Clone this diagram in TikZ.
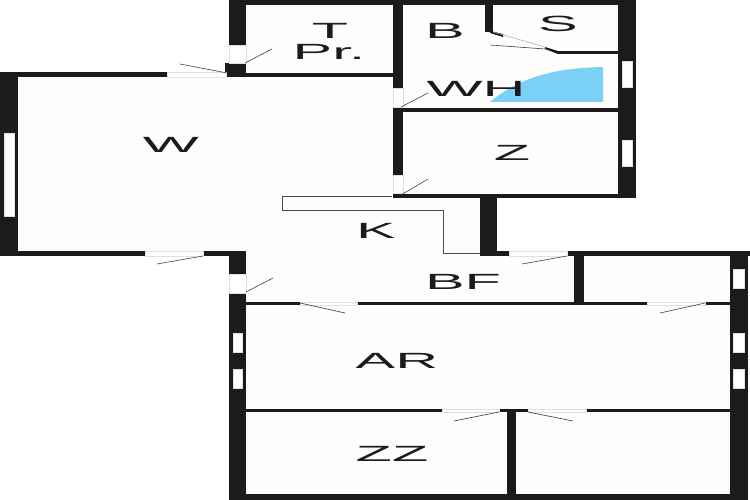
\documentclass[tikz,border=0pt]{standalone}
\usepackage{fontspec}
\setmainfont{Liberation Sans}
\usetikzlibrary{arrows.meta, positioning}
\definecolor{wallblack}{HTML}{1C1A1A}
\definecolor{floorwhite}{HTML}{FEFDFB}
\definecolor{tubblue}{HTML}{7BD0F5}

\begin{document}
\begin{tikzpicture}[
    x=1pt, y=-1pt,
    wall/.style = {fill=wallblack, draw=none},
    opening/.style = {fill=white, draw=black!12, line width=0.5pt},
    swing/.style = {draw=black!75, line width=0.6pt},
    counter/.style = {draw=black!70, line width=0.9pt},
    roomlabel/.style = {inner sep=0pt, xscale=2.7, text=wallblack, font=\fontsize{22}{22}\selectfont}
  ]
  \useasboundingbox (0,0) rectangle (750,500);

  % Floor
  \fill[floorwhite] (0,72) -- (229,72) -- (229,0) -- (636,0) -- (636,198) -- (497,198) -- (497,251)
    -- (750,251) -- (750,500) -- (229,500) -- (229,256) -- (0,256) -- cycle;

  % Bath tub
  \fill[tubblue] (490,102) .. controls (520,77) and (555,68) .. (603,67) -- (603,102) -- cycle;

  % Outer and inner walls
  \foreach \xa/\ya/\xb/\yb in {
      229/0/636/5, 229/0/246/45, 225/63/246/77, 246/73/393/77,
      393/0/403/88, 393/107/403/175, 393/193/403/197, 618/0/636/198,
      485/5/493/32, 558/51/618/54, 403/108/618/112, 393/194/636/198,
      480/195/497/256, 0/72/167/77, 226/72/246/77, 0/72/18/256,
      0/251/145/256, 203/251/246/256, 229/251/246/274, 229/293/246/500,
      480/251/509/256, 567/251/750/256, 574/256/584/303, 730/251/748/500,
      246/302/300/305, 357/302/647/305, 705/302/730/305,
      246/409/442/412, 499/409/528/412, 586/409/730/412,
      507/412/516/500, 229/494/748/500} {
    \fill[wall] (\xa,\ya) rectangle (\xb,\yb);
  }
  \fill[wall] (490,31) -- (503,34) -- (503,37) -- (490,33) -- cycle;
  \fill[wall] (545,47) -- (558,51) -- (558,54) -- (545,49) -- cycle;

  % Door openings
  \foreach \xa/\ya/\xb/\yb in {
      229/45/246/63, 393/88/403/107, 393/175/403/193, 167/72/226/77,
      145/251/203/256, 229/274/246/293, 509/251/567/256,
      300/302/357/305, 647/302/705/305, 442/409/499/412, 528/409/586/412} {
    \draw[opening] (\xa,\ya) rectangle (\xb,\yb);
  }

  % Windows
  \foreach \xa/\ya/\xb/\yb in {
      622/61/632/87, 622/140/632/166, 4/133/14/216, 733/269/744/288,
      233/333/242/352, 233/369/242/388, 733/333/744/352, 733/369/744/388} {
    \draw[opening] (\xa,\ya) rectangle (\xb,\yb);
  }

  % Door leaves
  \foreach \xa/\ya/\xb/\yb in {
      245/63/272/49, 401/107/428/93, 401/195/428/179, 180/64/227/73,
      157/264/203/256, 246/292/273/278, 522/264/567/256, 300/303/345/313,
      705/303/660/313, 499/412/454/421, 528/412/573/421, 490/45/545/49} {
    \draw[swing] (\xa,\ya) -- (\xb,\yb);
  }
  \draw[black!35, line width=0.5pt] (493,32) -- (545,47);

  % Kitchen counter
  \draw[counter] (392,196) -- (282,196) -- (282,210) -- (443,210) -- (443,253) -- (480,253);

  % Rooms
  \node[roomlabel] (toilet) at (330,31) {T};
  \node[roomlabel] (pantry) at (329,52) {Pr.};
  \node[roomlabel] (bath) at (445,31) {B};
  \node[roomlabel] (shower) at (558,24) {S};
  \node[roomlabel] (washroom) at (476,89) {WH};
  \node[roomlabel] (zroom) at (512,153) {Z};
  \node[roomlabel] (living) at (171,145) {W};
  \node[roomlabel] (kitchen) at (376,231) {K};
  \node[roomlabel] (hall) at (463,282) {BF};
  \node[roomlabel] (arroom) at (397,361) {AR};
  \node[roomlabel] (zzroom) at (392,454) {ZZ};

\end{tikzpicture}
\end{document}
